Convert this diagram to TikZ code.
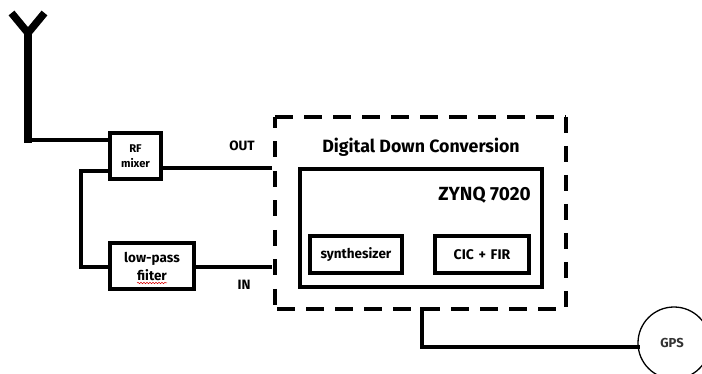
\documentclass[tikz,border=0pt]{standalone}
\usepackage{fontspec}
\setmainfont{Fira Sans}
\usetikzlibrary{decorations.pathmorphing}
\tikzset{
  x=1pt,y=-1pt,
  blockbox/.style={draw=black,line width=3.6pt,fill=white,inner sep=0pt,outer sep=0pt,align=center,font=\bfseries\fontsize{13.5}{18}\selectfont},
  wire/.style={draw=black,line width=3.6pt,line cap=rect,line join=miter},
  dashside/.style={draw=black,line width=3.6pt},
  lbl/.style={inner sep=0pt,font=\bfseries\fontsize{13.5}{15}\selectfont}
}
\begin{document}
\begin{tikzpicture}
\useasboundingbox (0,0) rectangle (702,374);
% antenna
\coordinate (tipL) at (11.5,13);
\coordinate (tipR) at (44.5,13);
\coordinate (fork) at (28,33);
\coordinate (bend) at (28,143);
\draw[line width=7.5pt,line join=miter] (tipL) -- (fork) -- (tipR);
\draw[line width=7.5pt] (fork) -- (bend);
% blocks
\node[blockbox,minimum width=51pt,minimum height=46pt,font=\bfseries\fontsize{11.2}{15}\selectfont] (mixer) at (135.5,156) {RF\\mixer};
\node[blockbox,minimum width=84pt,minimum height=46pt] (filter) at (152,266) {low-pass\\fiiter};
\node[inner sep=0pt,outer sep=0pt,minimum width=291pt,minimum height=192pt] (ddc) at (420.5,213) {};
\node[blockbox,minimum width=242pt,minimum height=118pt,line width=4pt] (zynq) at (421,228) {};
\node[blockbox,minimum width=92pt,minimum height=37pt,line width=4pt] (synth) at (356,254.5) {synthesizer};
\node[blockbox,minimum width=94pt,minimum height=37pt,line width=4pt,font=\bfseries\fontsize{14}{16}\selectfont] (cic) at (482,254.5) {CIC\,\,+\,\,FIR};
% labels
\node[lbl] (out) at (242,146) {OUT};
\node[lbl] (inl) at (244,285) {IN};
\node[lbl,font=\bfseries\fontsize{17.8}{20}\selectfont] (title) at (421,147) {Digital Down Conversion};
\node[lbl,font=\bfseries\fontsize{19}{21}\selectfont] (ztext) at (484.5,195) {ZYNQ 7020};
% dashed frame
\draw[dashside,dash pattern=on 18pt off 11pt] (ddc.north west) -- (ddc.north east);
\draw[dashside,dash pattern=on 16pt off 13.5pt,dash phase=5pt] (ddc.north west) -- (ddc.south west);
\draw[dashside,dash pattern=on 16pt off 13pt] (ddc.north east) -- (ddc.south east);
\coordinate (botL) at (277,309);
\draw[dashside,dash pattern=on 18pt off 11pt] (botL) -- (ddc.south east);
% connectors
\coordinate (outEnd) at (270,168);
\coordinate (inEnd) at (270,267);
\coordinate (leftTurn) at (81,171);
\coordinate (gpsDrop) at (422,309);
\coordinate (antFoot) at (28,140);
\draw[wire] (antFoot) -- (mixer.west |- antFoot);
\draw[wire] (mixer.east |- outEnd) -- (outEnd);
\draw[wire] (mixer.west |- leftTurn) -- (leftTurn) -- (leftTurn |- inEnd) -- (filter.west |- inEnd);
\draw[wire] (filter.east |- inEnd) -- (inEnd);
% GPS
\begin{scope}
\clip (0,0) rectangle (702,374);
\node[draw=black,line width=1.3pt,circle,fill=white,minimum size=72pt,inner sep=0pt,outer sep=0pt] (gps) at (674,343) {};
\end{scope}
\node[lbl,font=\bfseries\fontsize{13}{15}\selectfont,text=black!80] (gpstext) at (672,343) {GPS};
\coordinate (gpsFoot) at (422,347);
\draw[wire] (gpsDrop) -- (gpsFoot) -- (gps.west |- gpsFoot);
% spell-check mark
\coordinate (wavyA) at (137,283);
\coordinate (wavyB) at (167,283);
\draw[red!85!black,line width=0.5pt,decorate,decoration={snake,amplitude=0.7pt,segment length=3pt}] (wavyA) -- (wavyB);
\end{tikzpicture}
\end{document}
